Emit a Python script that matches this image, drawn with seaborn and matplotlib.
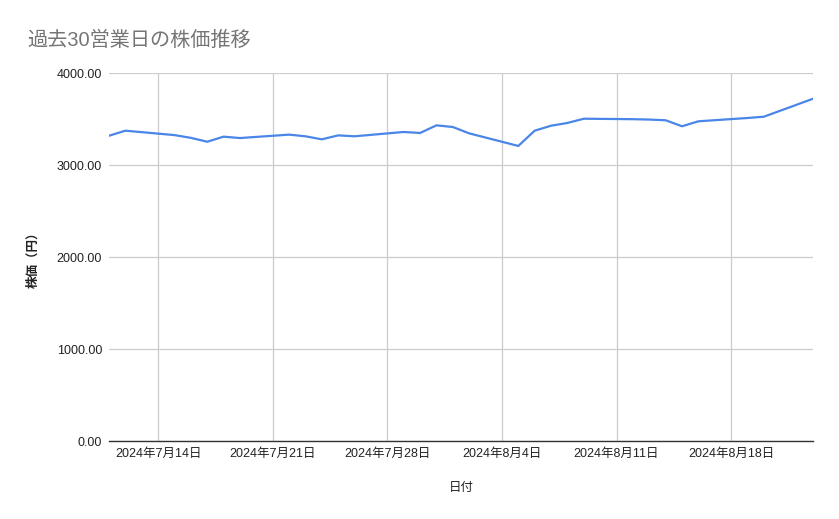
import matplotlib
matplotlib.use("Agg")
import matplotlib.pyplot as plt
import matplotlib.dates as mdates
import seaborn as sns
import pandas as pd
import numpy as np

dates = ["2024-07-11", "2024-07-12", "2024-07-15", "2024-07-16", "2024-07-17",
         "2024-07-18", "2024-07-19", "2024-07-22", "2024-07-23", "2024-07-24",
         "2024-07-25", "2024-07-26", "2024-07-29", "2024-07-30", "2024-07-31",
         "2024-08-01", "2024-08-02", "2024-08-05", "2024-08-06", "2024-08-07",
         "2024-08-08", "2024-08-09", "2024-08-12", "2024-08-13", "2024-08-14",
         "2024-08-15", "2024-08-16", "2024-08-19", "2024-08-20", "2024-08-21",
         "2024-08-22", "2024-08-23"]
prices = [3318, 3373, 3325, 3295, 3253,
          3308, 3293, 3330, 3312, 3279,
          3322, 3312, 3359, 3348, 3431,
          3413, 3344, 3207, 3373, 3427,
          3457, 3503, 3498, 3494, 3486,
          3421, 3475, 3511, 3525, 3590,
          3655, 3720]
xtick_dates = ["2024-07-14", "2024-07-21", "2024-07-28", "2024-08-04",
               "2024-08-11", "2024-08-18"]
ytick_values = [0, 1000, 2000, 3000, 4000]

sns.set_theme(style="white")
fam = ['Liberation Sans', 'Noto Sans CJK JP', 'DejaVu Sans']
plt.rcParams['font.family'] = fam

df = pd.DataFrame({"日付": pd.to_datetime(dates), "株価": prices})

fig = plt.figure(figsize=(8.39, 5.19), dpi=100)
ax = fig.add_axes([109/839, 78/519, 704/839, 368/519])

sns.lineplot(data=df, x="日付", y="株価", ax=ax, color="#4a86e8", linewidth=1.6)

ax.set_xlim(pd.Timestamp("2024-07-11"), pd.Timestamp("2024-08-23"))
ax.set_ylim(0, 4000)

xt = pd.to_datetime(xtick_dates)
ax.set_xticks(xt)
ax.set_xticklabels([f"{d.year}年{d.month}月{d.day}日" for d in xt], fontsize=9, color="#222222")
ax.set_yticks(ytick_values)
ax.set_yticklabels([f"{v:.2f}" for v in ytick_values], fontsize=9, color="#222222")

ax.grid(True, color="#cccccc", linewidth=0.9)
ax.set_axisbelow(True)
for s in ["top", "right", "left"]:
    ax.spines[s].set_visible(False)
ax.spines["bottom"].set_color("#333333")
ax.spines["bottom"].set_linewidth(1.0)
ax.tick_params(axis="both", length=0, pad=5)

ax.set_xlabel("日付", fontsize=9, color="#222222", labelpad=16)
ax.set_ylabel("株価（円）", fontsize=9, color="#222222", labelpad=12, fontweight="bold")

fig.text(27/839, 1 - 40/519, "過去30営業日の株価推移", fontsize=14.5, color="#757575",
         ha="left", va="center")

fig.savefig("out.png", dpi=100)
